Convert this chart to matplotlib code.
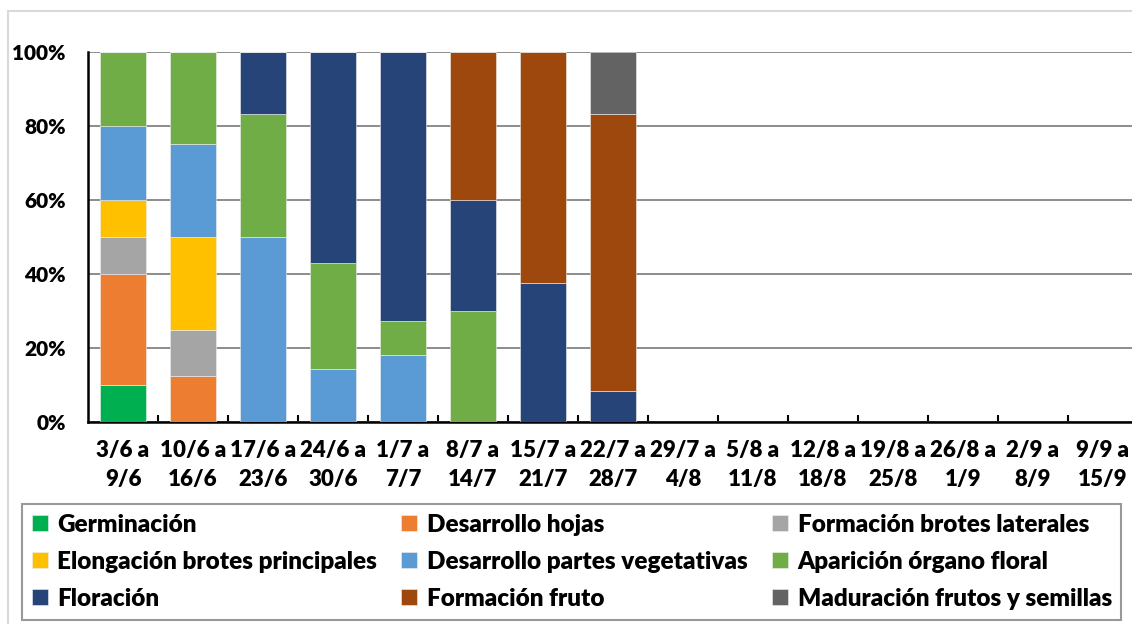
import matplotlib.pyplot as plt
from matplotlib.patches import Rectangle
import numpy as np

plt.rcParams['font.family'] = ['Lato', 'DejaVu Sans']
plt.rcParams['font.weight'] = 'heavy'

weeks = ["3/6 a\n9/6", "10/6 a\n16/6", "17/6 a\n23/6", "24/6 a\n30/6", "1/7 a\n7/7",
         "8/7 a\n14/7", "15/7 a\n21/7", "22/7 a\n28/7", "29/7 a\n4/8", "5/8 a\n11/8",
         "12/8 a\n18/8", "19/8 a\n25/8", "26/8 a\n1/9", "2/9 a\n8/9", "9/9 a\n15/9"]

# percentages per week (only the first 8 weeks have data)
germinacion    = [10, 0, 0, 0, 0, 0, 0, 0, 0, 0, 0, 0, 0, 0, 0]
desarrollo_hoj = [30, 12.5, 0, 0, 0, 0, 0, 0, 0, 0, 0, 0, 0, 0, 0]
brotes_lat     = [10, 12.5, 0, 0, 0, 0, 0, 0, 0, 0, 0, 0, 0, 0, 0]
elongacion     = [10, 25, 0, 0, 0, 0, 0, 0, 0, 0, 0, 0, 0, 0, 0]
partes_veg     = [20, 25, 50, 14.3, 18.2, 0, 0, 0, 0, 0, 0, 0, 0, 0, 0]
organo_floral  = [20, 25, 33.3, 28.6, 9.1, 30, 0, 0, 0, 0, 0, 0, 0, 0, 0]
floracion      = [0, 0, 16.7, 57.1, 72.7, 30, 37.5, 8.3, 0, 0, 0, 0, 0, 0, 0]
fruto          = [0, 0, 0, 0, 0, 40, 62.5, 75, 0, 0, 0, 0, 0, 0, 0]
maduracion     = [0, 0, 0, 0, 0, 0, 0, 16.7, 0, 0, 0, 0, 0, 0, 0]

series = [
    ("Germinación", germinacion, "#00B050"),
    ("Desarrollo hojas", desarrollo_hoj, "#ED7D31"),
    ("Formación brotes laterales", brotes_lat, "#A5A5A5"),
    ("Elongación brotes principales", elongacion, "#FFC000"),
    ("Desarrollo partes vegetativas", partes_veg, "#5B9BD5"),
    ("Aparición órgano floral", organo_floral, "#70AD47"),
    ("Floración", floracion, "#264478"),
    ("Formación fruto", fruto, "#9E480E"),
    ("Maduración frutos y semillas", maduracion, "#636363"),
]

fig = plt.figure(figsize=(11.32, 6.24), dpi=100)
fig.patches.append(Rectangle((8 / 1132, -0.1), 1.2, 1 - 11 / 624 + 0.1, transform=fig.transFigure,
                             fill=False, edgecolor='#d9d9d9', linewidth=1.5))
ax = fig.add_axes([88 / 1132, 0.3237, 1050 / 1132, 0.593])

x = np.arange(len(weeks))
bottom = np.zeros(len(weeks))
handles = {}
for name, vals, col in series:
    vals = np.array(vals, dtype=float)
    b = ax.bar(x, vals, 0.67, bottom=bottom, color=col, edgecolor='#f0f0f0', linewidth=0.4,
               label=name, zorder=3)
    handles[name] = b
    bottom += vals

ax.set_xlim(-0.5, len(weeks) - 0.5)
ax.set_ylim(0, 100)
ax.set_yticks([0, 20, 40, 60, 80, 100])
ax.set_yticklabels([f"{v}%" for v in [0, 20, 40, 60, 80, 100]])
ax.yaxis.grid(True, color='#8c8c8c', linewidth=1.4, zorder=0)
ax.tick_params(axis='y', length=0, pad=16, labelsize=15)

ax.set_xticks(x)
ax.set_xticklabels(weeks, fontsize=16, linespacing=1.45)
ax.set_xticks(np.arange(len(weeks)) + 0.5, minor=True)
ax.tick_params(axis='x', which='major', length=0, pad=13)
ax.tick_params(axis='x', which='minor', direction='in', length=5, width=1.5, color='black')

for s in ['top', 'right']:
    ax.spines[s].set_visible(False)
for s in ['left', 'bottom']:
    ax.spines[s].set_linewidth(1.8)
    ax.spines[s].set_color('black')

# legend filled row by row
order = ["Germinación", "Elongación brotes principales", "Floración",
         "Desarrollo hojas", "Desarrollo partes vegetativas", "Formación fruto",
         "Formación brotes laterales", "Aparición órgano floral", "Maduración frutos y semillas"]
leg = fig.legend([handles[n] for n in order], order, ncol=3, loc='upper left',
                 bbox_to_anchor=(22 / 1132, 1 - 504 / 624), borderaxespad=0, fontsize=17.5,
                 frameon=True, fancybox=False, edgecolor='#808080', handlelength=0.65,
                 handleheight=0.65, handletextpad=0.4, columnspacing=1.0, labelspacing=0.62,
                 borderpad=0.4)
leg.get_frame().set_linewidth(1.5)

fig.savefig("out.png", dpi=100)
